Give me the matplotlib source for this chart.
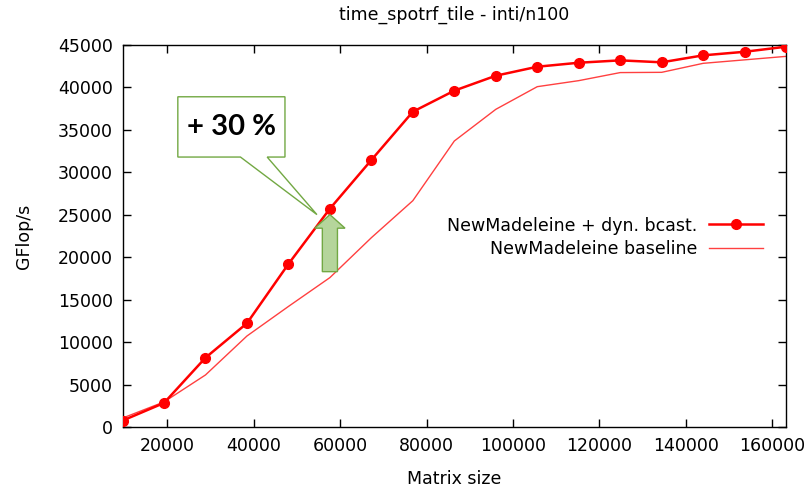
import matplotlib
matplotlib.use("Agg")
import matplotlib.pyplot as plt
from matplotlib.patches import Polygon

# ---------------------------------------------------------------------------
# Data
# ---------------------------------------------------------------------------

matrix_size = [9600, 19200, 28800, 38400, 48000, 57600, 67200, 76800, 86400,
               96000, 105600, 115200, 124800, 134400, 144000, 153600, 163200]

gflops_dyn_bcast = [750, 2830, 8160, 12220, 19200, 25720, 31450, 37140, 39620,
                    41380, 42440, 42910, 43190, 42960, 43780, 44200, 44800]

gflops_baseline = [1050, 2950, 6130, 10720, 14200, 17600, 22300, 26660, 33690,
                   37420, 40090, 40800, 41750, 41780, 42840, 43250, 43660]

x_ticks = [20000, 40000, 60000, 80000, 100000, 120000, 140000, 160000]
y_ticks = list(range(0, 45001, 5000))

GREEN_EDGE = "#72a843"
GREEN_FILL = "#b5d59b"

plt.rcParams["font.family"] = ["DejaVu Sans"]
plt.rcParams["font.size"] = 12.5

fig = plt.figure(figsize=(8.12, 4.88), dpi=100)
ax = fig.add_axes([0.1509, 0.125, 0.8172, 0.7828])

ax.plot(matrix_size, gflops_dyn_bcast, color="#ff0000", linewidth=1.8,
        marker="o", markersize=7, label="NewMadeleine + dyn. bcast.", zorder=3)
ax.plot(matrix_size, gflops_baseline, color="#ff0000", linewidth=1.0, alpha=0.75,
        label="NewMadeleine baseline", zorder=2)

ax.set_xlim(matrix_size[0], matrix_size[-1])
ax.set_ylim(0, 45000)
ax.set_xticks(x_ticks)
ax.set_yticks(y_ticks)
ax.tick_params(direction="in", length=6, width=1, top=True, right=True, pad=7)
for s in ax.spines.values():
    s.set_linewidth(1)

ax.set_title("time_spotrf_tile - inti/n100", fontsize=12.5, pad=18)
ax.set_xlabel("Matrix size", labelpad=11)
ax.set_ylabel("GFlop/s", labelpad=18)

ax.legend(loc="center right", bbox_to_anchor=(0.965, 0.497), frameon=False,
          markerfirst=False, handlelength=3.1, handletextpad=0.7,
          labelspacing=0.3, borderpad=0, borderaxespad=0)

# "+ 30 %" callout pointing at the gain
i = 5
xc = matrix_size[i]
tip_x, tip_y = xc - 3000, gflops_dyn_bcast[i] - 700
bx0, bx1, by0, by1 = 22400, 47200, 31800, 38900
callout = Polygon([(bx0, by1), (bx1, by1), (bx1, by0), (43080, by0),
                   (tip_x, tip_y), (36900, by0), (bx0, by0)],
                  closed=True, facecolor="white", edgecolor=GREEN_EDGE,
                  linewidth=1, zorder=4)
ax.add_patch(callout)
ax.text((bx0 + bx1) / 2, (by0 + by1) / 2, "+ 30 %", ha="center", va="center",
        fontsize=21, fontweight="bold", family="Lato", zorder=5)

# block arrow from baseline up to the improved value
top = gflops_dyn_bcast[i] - 700
head = top - 1600
bottom = gflops_baseline[i] + 700
arrow = Polygon([(xc - 1750, bottom), (xc + 1750, bottom), (xc + 1750, head),
                 (xc + 3500, head), (xc, top), (xc - 3500, head),
                 (xc - 1750, head)],
                closed=True, facecolor=GREEN_FILL, edgecolor=GREEN_EDGE,
                linewidth=1, zorder=4)
ax.add_patch(arrow)

fig.savefig("out.png", dpi=100)
